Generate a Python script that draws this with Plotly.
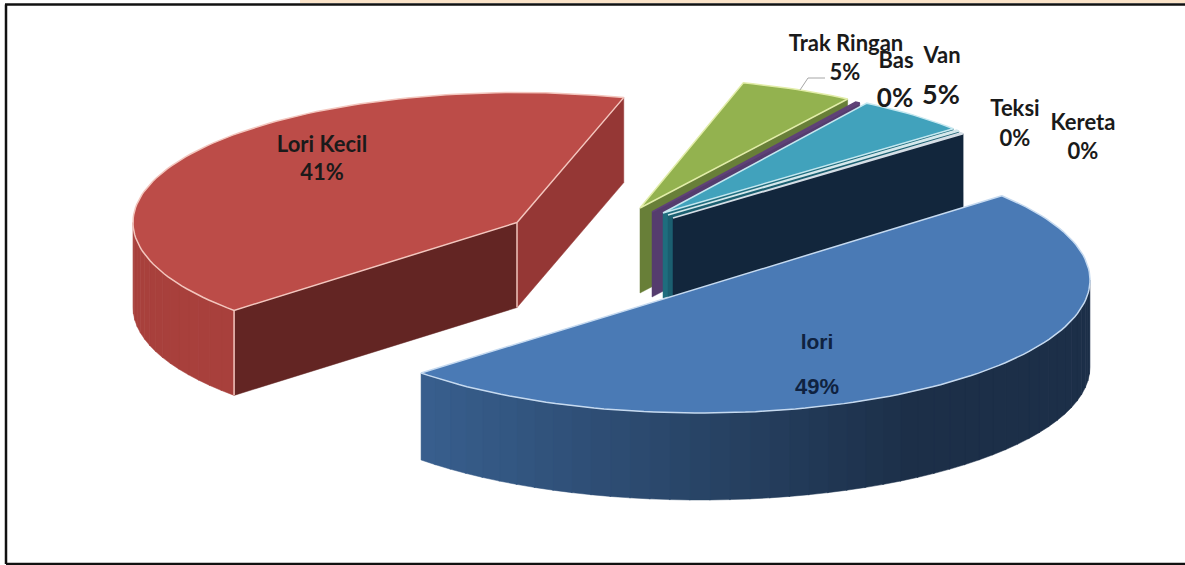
import math
import plotly.graph_objects as go

# --- data ---
names = ["lori", "Lori Kecil", "Trak Ringan", "Bas", "Van", "Teksi", "Kereta"]
values = [48.6, 41.3, 4.8, 0.2, 4.8, 0.15, 0.15]

# --- style / projection of the 3-D pie ---
START_DEG = 50.7
total = sum(values)
# small per-slice rotation standing in for the original's perspective (degrees)
angle_nudge = [0, 1.8, 1.4, 0.7, 0, -0.4, -1.1]
# centre x, centre y, radius x, radius y
ellipses = [(700, 280, 390, 133), (517, 222.5, 384, 130), (640, 208, 381, 130),
            (652, 212, 381, 130), (663, 213, 381, 130), (668, 215, 381, 130), (673, 218, 381, 130)]
depths = [87, 85, 85, 85, 85, 85, 85]
top_colors = ["#4A7AB5", "#BC4C48", "#93B24F", "#5F4277", "#41A2BC", "#2D8598", "#1B3350"]
top_lines = ["#C6DAF0", "#F3C6BE", "#E2EDA9", "#5F4277", "#C5E8F0", "#D5E8EC", "#D5DEE6"]
wall_colors = ["#3F6A9E", "#A8403C", "#687F38", "#553C6E", "#1F6D7E", "#1B5F70", "#12263C"]
wall_end_colors = ["#1C2F48", "#A8403C", "#687F38", "#553C6E", "#1F6D7E", "#1B5F70", "#12263C"]
edge_colors = [None, "#632523", "#687F38", "#553C6E", "#1F6D7E", "#1B5F70", "#12263C"]
back_edge_colors = [None, "#953735", None, None, None, None, None]

label_xy = [(817, 344), (322, 146), (846, 45), (896, 62), (942, 57), (1015, 110), (1083, 124)]
value_xy = [(817, 388), (322, 174), (845, 74), (895, 100), (941, 97), (1015, 140), (1083, 153)]
label_sizes = [21, 22, 22, 22, 22, 22, 22]
value_sizes = [22, 22, 22, 26, 27, 22, 22]


def hex_mix(c1, c2, t):
    a = [int(c1[i:i + 2], 16) for i in (1, 3, 5)]
    b = [int(c2[i:i + 2], 16) for i in (1, 3, 5)]
    return "#%02x%02x%02x" % tuple(round(a[i] + (b[i] - a[i]) * t) for i in range(3))


def pt(el, deg):
    cx, cy, rx, ry = el
    r = math.radians(deg)
    return cx + rx * math.sin(r), cy - ry * math.cos(r)


def arc(el, d0, d1, n=None):
    n = n or max(2, int(abs(d1 - d0) / 1.5) + 2)
    return [pt(el, d0 + (d1 - d0) * i / (n - 1)) for i in range(n)]


fig = go.Figure()


def poly(points, fill, line=None, width=1.5, closed=True):
    xs = [p[0] for p in points]
    ys = [p[1] for p in points]
    if closed:
        xs.append(xs[0])
        ys.append(ys[0])
    fig.add_trace(go.Scatter(
        x=xs, y=ys, mode="lines", fill="toself" if fill else None, fillcolor=fill,
        line=dict(color=line or fill or "rgba(0,0,0,0)", width=width if line else 0.5),
        hoverinfo="skip", showlegend=False))


# cumulative angles
angles = []
cur = START_DEG
for v, nudge in zip(values, angle_nudge):
    sweep = v / total * 360
    angles.append((cur + nudge, cur + nudge + sweep))
    cur += sweep

draw_order = [1, 2, 3, 4, 5, 6, 0]
for i in draw_order:
    el = ellipses[i]
    d = depths[i]
    a0, a1 = angles[i]
    tip = (el[0], el[1])
    p0, p1 = pt(el, a0), pt(el, a1)

    # flat walls beside the tip
    if back_edge_colors[i]:
        poly([tip, p1, (p1[0], p1[1] + d), (tip[0], tip[1] + d)], back_edge_colors[i])
    if edge_colors[i] and i != 1:
        poly([tip, p1, (p1[0], p1[1] + d), (tip[0], tip[1] + d)], edge_colors[i])
    if i == 1:
        poly([tip, p0, (p0[0], p0[1] + d), (tip[0], tip[1] + d)], edge_colors[i])

    # curved outer wall, drawn in strips for the shading
    lo = max(a0, 90)
    hi = min(a1, 270)
    if hi > lo:
        n = int((hi - lo) / 3) + 1
        for k in range(n):
            s0 = lo + (hi - lo) * k / n
            s1 = lo + (hi - lo) * (k + 1) / n + 0.15
            strip = arc(el, s0, min(s1, hi), 3)
            mid = pt(el, (s0 + s1) / 2)
            t = (mid[0] - (el[0] - el[2])) / (2 * el[2])
            col = hex_mix(wall_colors[i], wall_end_colors[i], min(1, max(0, t * 1.3 if i == 0 else t)))
            poly(strip + [(q[0], q[1] + d) for q in reversed(strip)], col)

    # top face
    top = arc(el, a0, a1)
    if i != 0:
        top = [tip] + top
    poly(top, top_colors[i], top_lines[i], 1.5)

    # light corner lines on the large red slice
    if i == 1:
        poly([p0, (p0[0], p0[1] + d)], None, top_lines[i], 1.5, closed=False)
        poly([tip, (tip[0], tip[1] + d)], None, top_lines[i], 1.5, closed=False)

# leader line of Trak Ringan
fig.add_trace(go.Scatter(x=[800, 808, 825], y=[90, 78, 78], mode="lines",
                         line=dict(color="#A6A6A6", width=1), hoverinfo="skip", showlegend=False))

# labels
for i in range(len(names)):
    family = "Liberation Sans" if i == 0 else "Lato"
    colour = "#0F2240" if i == 0 else "#1A1A1A"
    fig.add_trace(go.Scatter(
        x=[label_xy[i][0], value_xy[i][0]], y=[label_xy[i][1], value_xy[i][1]],
        mode="text", text=[names[i], f"{round(values[i])}%"], textposition="middle center",
        textfont=dict(family=family, size=[label_sizes[i], value_sizes[i]], color=colour, weight="bold"),
        hoverinfo="skip", showlegend=False))

frame = dict(type="line", xref="x", yref="y", line=dict(color="#111111", width=2.5))
fig.update_layout(
    width=1185, height=565, margin=dict(l=0, r=0, t=0, b=0),
    paper_bgcolor="white", plot_bgcolor="white", showlegend=False,
    xaxis=dict(range=[0, 1185], visible=False, fixedrange=True),
    yaxis=dict(range=[565, 0], visible=False, fixedrange=True),
    shapes=[
        dict(type="rect", xref="x", yref="y", x0=300, y0=0, x1=1185, y1=3,
             line=dict(width=0), fillcolor="#FBE3C8"),
        dict(frame, x0=5, y0=4.5, x1=1185, y1=4.5),
        dict(frame, x0=6, y0=4.5, x1=6, y1=564),
        dict(frame, x0=6, y0=564, x1=1185, y1=564),
    ],
)
fig.write_html("out.html", config=dict(displayModeBar=False),
               post_script="document.body.style.margin='0';")
